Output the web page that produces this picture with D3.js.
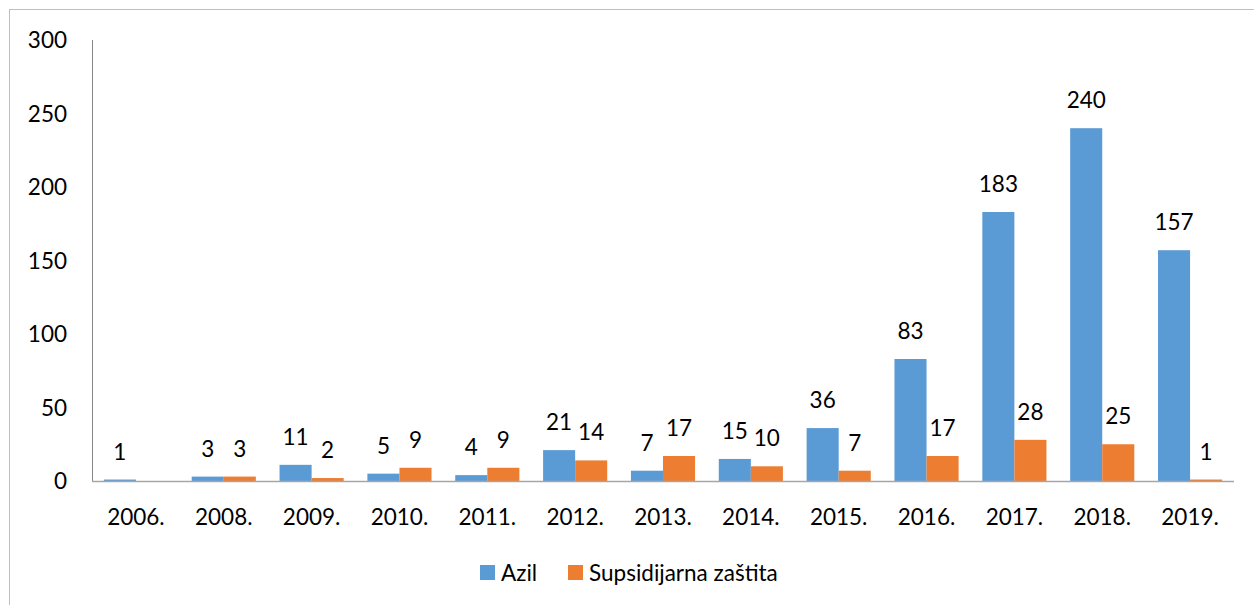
<!DOCTYPE html>
<html>
<head>
<meta charset="UTF-8">
<title>Azil i supsidijarna zaštita</title>
<script src="https://d3js.org/d3.v7.min.js"></script>
<style>
  body { margin: 0; background: #fff; }
  svg { display: block; font-family: Lato, "Open Sans", sans-serif; }
  .tick-label { font-size: 22.5px; fill: #000; }
  .val { font-size: 22.5px; fill: #000; text-anchor: middle; }
</style>
</head>
<body>
<svg id="chart" width="1254" height="605"></svg>
<script>
  // podaci
  const years = ["2006.", "2008.", "2009.", "2010.", "2011.", "2012.", "2013.", "2014.", "2015.", "2016.", "2017.", "2018.", "2019."];
  const azil = [1, 3, 11, 5, 4, 21, 7, 15, 36, 83, 183, 240, 157];
  const supsidijarna = [0, 3, 2, 9, 9, 14, 17, 10, 7, 17, 28, 25, 1];
  const seriesNames = ["Azil", "Supsidijarna zaštita"];
  const colors = ["#5B9BD5", "#ED7D31"];
  const yTicks = [0, 50, 100, 150, 200, 250, 300];

  const svg = d3.select("#chart");

  // okvir grafikona
  svg.append("rect")
    .attr("x", 9.5).attr("y", 9.5)
    .attr("width", 1260).attr("height", 620)
    .attr("fill", "none")
    .attr("stroke", "#bfbfbf")
    .attr("stroke-width", 1);

  const plotL = 92, plotR = 1234, plotT = 40, plotB = 481;

  const x = d3.scaleBand()
    .domain(years)
    .range([plotL, plotR])
    .paddingInner(0.27)
    .paddingOuter(0.135);

  const x1 = d3.scaleBand()
    .domain(seriesNames)
    .range([0, x.bandwidth()]);

  const y = d3.scaleLinear().domain([0, 300]).range([plotB, plotT]);

  // y os
  svg.append("line")
    .attr("x1", plotL + 0.5).attr("x2", plotL + 0.5)
    .attr("y1", plotT).attr("y2", plotB)
    .attr("stroke", "#868686");

  svg.selectAll("text.ylab")
    .data(yTicks)
    .enter().append("text")
    .attr("class", "tick-label ylab")
    .attr("x", 67)
    .attr("y", d => y(d))
    .attr("dy", "0.36em")
    .attr("text-anchor", "end")
    .text(d => d);

  // podaci po serijama
  const rows = years.map((yr, i) => ({ year: yr, values: [azil[i], supsidijarna[i]] }));

  const groups = svg.selectAll("g.grp")
    .data(rows)
    .enter().append("g")
    .attr("class", "grp")
    .attr("transform", d => `translate(${x(d.year)},0)`);

  groups.selectAll("rect")
    .data(d => d.values.map((v, k) => ({ name: seriesNames[k], v, k })))
    .enter().append("rect")
    .attr("x", d => x1(d.name))
    .attr("y", d => y(d.v))
    .attr("width", x1.bandwidth())
    .attr("height", d => plotB - y(d.v))
    .attr("fill", d => colors[d.k]);

  groups.selectAll("text.val")
    .data(d => d.values.map((v, k) => ({ name: seriesNames[k], v, k })).filter(d => d.v > 0))
    .enter().append("text")
    .attr("class", "val")
    .attr("x", d => x1(d.name) + x1.bandwidth() / 2)
    .attr("y", d => y(d.v) - 20)
    .text(d => d.v);

  // x os
  svg.append("line")
    .attr("x1", plotL).attr("x2", plotR)
    .attr("y1", plotB + 0.5).attr("y2", plotB + 0.5)
    .attr("stroke", "#a6a6a6")
    .attr("stroke-width", 1.5);

  svg.selectAll("text.xlab")
    .data(years)
    .enter().append("text")
    .attr("class", "tick-label xlab")
    .attr("x", d => x(d) + x.bandwidth() / 2)
    .attr("y", 517)
    .attr("dy", "0.36em")
    .attr("text-anchor", "middle")
    .text(d => d);

  // legenda
  const legend = svg.append("g").attr("transform", "translate(480,565)");
  const legX = [0, 88];
  seriesNames.forEach((name, k) => {
    const g = legend.append("g").attr("transform", `translate(${legX[k]},0)`);
    g.append("rect").attr("width", 15).attr("height", 15).attr("fill", colors[k]);
    g.append("text")
      .attr("class", "tick-label")
      .attr("x", 21).attr("y", 8).attr("dy", "0.36em")
      .text(name);
  });
</script>
</body>
</html>
